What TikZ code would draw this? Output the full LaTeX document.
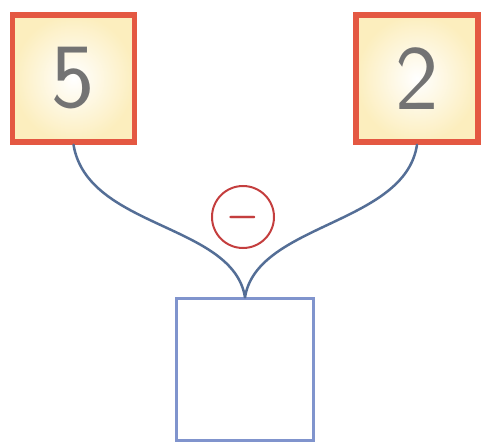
\documentclass[tikz,border=0pt]{standalone}
\usepackage{fontspec}
\usepackage{graphicx}
\usetikzlibrary{shapes,arrows}
\definecolor{boxred}{RGB}{228,88,66}
\definecolor{cream}{RGB}{252,238,190}
\definecolor{numgray}{RGB}{115,115,115}
\definecolor{boxblue}{RGB}{128,148,205}
\definecolor{linkblue}{RGB}{84,110,150}
\definecolor{opred}{RGB}{196,62,62}
\tikzstyle{number} = [rectangle, draw=boxred, inner color=white, outer color=cream, line width=5.5pt, text=numgray, minimum width=122pt, minimum height=127pt, font=\fontsize{92}{92}\selectfont\sffamily]
\tikzstyle{answer} = [rectangle, draw=boxblue, fill=white, line width=2.5pt, minimum width=137pt, minimum height=142pt]
\tikzstyle{operation} = [circle, draw=opred, line width=2pt, text=opred, minimum size=62pt, inner sep=0pt]
\tikzstyle{link} = [draw=linkblue, line width=2.5pt, line cap=round]

\begin{document}
\begin{tikzpicture}[x=1pt, y=-1pt, node distance=343.5pt]
            \useasboundingbox (0,0) rectangle (491,447);
            \node[number] (five) at (73.5,78.5) {5};
            \node[number, right of=five] (two) {2};
            \node[operation] (minus) at (243,217) {\scalebox{4.2}[6]{$-$}};
            \node[answer] (result) at (245,369.5) {};

            \path [link] (five.south) .. controls +(14,84) and +(-12,-74) .. (result.north);
            \path [link] (two.south) .. controls +(-12,80) and +(12,-74) .. (result.north);
        \end{tikzpicture}
\end{document}
